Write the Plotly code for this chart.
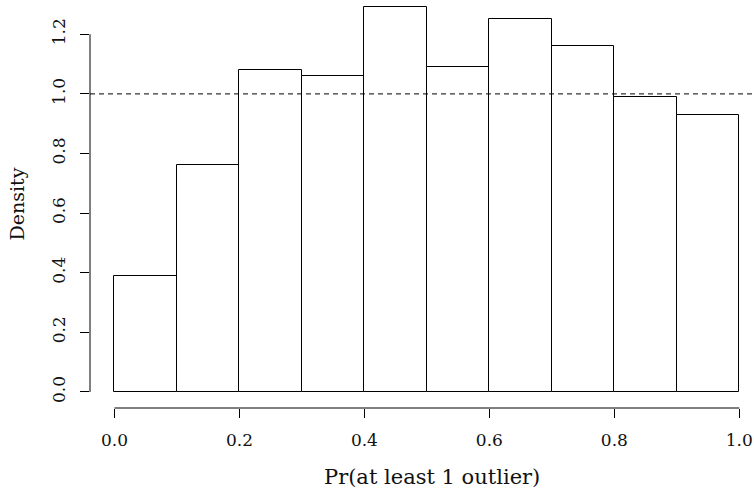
import plotly.graph_objects as go

bin_left = [0.0, 0.1, 0.2, 0.3, 0.4, 0.5, 0.6, 0.7, 0.8, 0.9]
bin_width = 0.1
density = [0.39, 0.76, 1.08, 1.06, 1.29, 1.09, 1.25, 1.16, 0.99, 0.93]
x_ticks = [0.0, 0.2, 0.4, 0.6, 0.8, 1.0]
x_ticklabels = ["0.0", "0.2", "0.4", "0.6", "0.8", "1.0"]
y_ticks = [0.0, 0.2, 0.4, 0.6, 0.8, 1.0, 1.2]
y_ticklabels = ["0.0", "0.2", "0.4", "0.6", "0.8", "1.0", "1.2"]
ref_level = 1.0
x_title = "Pr(at least 1 outlier)"
y_title = "Density"

FONT = "DejaVu Serif"

centers = [b + bin_width / 2 for b in bin_left]

fig = go.Figure()
fig.add_trace(go.Bar(
    x=centers, y=density, width=[bin_width] * len(density),
    marker=dict(color="white", line=dict(color="black", width=1)),
    showlegend=False, hoverinfo="skip", cliponaxis=False,
))

# reference dashed line
fig.add_shape(type="line", xref="paper", x0=0, x1=1, yref="y", y0=ref_level, y1=ref_level,
              line=dict(color="black", width=1, dash="5px,4px"))
# R-style detached axis lines
fig.add_shape(type="line", xref="x", x0=x_ticks[0], x1=x_ticks[-1], yref="paper", y0=0, y1=0,
              line=dict(color="black", width=1))
fig.add_shape(type="line", xref="paper", x0=0, x1=0, yref="y", y0=y_ticks[0], y1=y_ticks[-1],
              line=dict(color="black", width=1))

# x-axis title (R centres it on the full plot region, slightly right of paper centre)
fig.add_annotation(text=x_title, xref="paper", yref="paper", x=0.5, y=0,
                   xanchor="center", yanchor="middle", xshift=10, yshift=-69,
                   showarrow=False, font=dict(size=21))

fig.update_layout(
    width=754, height=492,
    margin=dict(l=90, r=0, t=0, b=84, autoexpand=False),
    plot_bgcolor="white", paper_bgcolor="white",
    font=dict(family=FONT, color="#111", size=17),
    xaxis=dict(range=[-0.0392, 1.0235], tickvals=x_ticks, ticktext=x_ticklabels,
               ticks="outside", ticklen=9, tickcolor="black", showgrid=False, zeroline=False,
               showline=False, ticklabelstandoff=8, automargin=False),
    yaxis=dict(range=[-0.0537, 1.315], tickvals=y_ticks, ticktext=y_ticklabels,
               ticks="outside", ticklen=9, tickcolor="black", showgrid=False, zeroline=False,
               showline=False, tickangle=-90, ticklabelstandoff=8, automargin=False,
               title=dict(text=y_title, font=dict(size=19), standoff=19)),
    bargap=0,
)

fig.write_html("out.html", config={"displayModeBar": False},
               post_script="document.body.style.margin='0';document.body.style.padding='0';")
